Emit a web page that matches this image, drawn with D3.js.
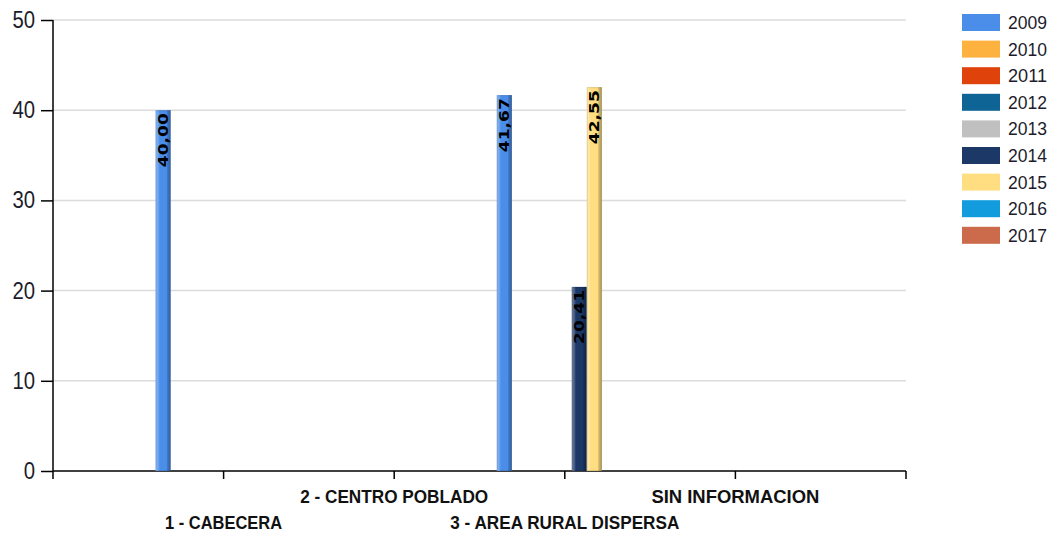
<!DOCTYPE html>
<html><head><meta charset="utf-8">
<script src="https://cdn.jsdelivr.net/npm/d3@7/dist/d3.min.js"></script>
<style>body{margin:0;background:#fff}svg{display:block}</style>
</head><body>
<svg id="c" width="1051" height="534"></svg>
<script>
const categories = ["1 - CABECERA", "2 - CENTRO POBLADO", "3 - AREA RURAL DISPERSA", "SIN INFORMACION"];
const years = ["2009","2010","2011","2012","2013","2014","2015","2016","2017"];
const colors = ["#4a8eea","#fdb13f","#e0420c","#0f6496","#c0c0c0","#1b3867","#ffde82","#129cdd","#cc6b4b"];
// values per year, one per category; null = no value
const v2009 = [40.00, null, 41.67, null];
const v2010 = [null, null, null, null];
const v2011 = [null, null, null, null];
const v2012 = [null, null, null, null];
const v2013 = [null, null, null, null];
const v2014 = [null, null, 20.41, null];
const v2015 = [null, null, 42.55, null];
const v2016 = [null, null, null, null];
const v2017 = [null, null, null, null];
const series = [v2009,v2010,v2011,v2012,v2013,v2014,v2015,v2016,v2017];
const yTicks = [0,10,20,30,40,50];

const svg = d3.select("#c");
const L=53, R=906, T=20, B=471;
const x = d3.scaleLinear().domain([0, categories.length+1]).range([L,R]);
const y = d3.scaleLinear().domain([0,50]).range([B,T]);
const barW = 15;
const inner = d3.scaleBand().domain(years).range([-barW*years.length/2, barW*years.length/2]);

const defs = svg.append("defs");
const g = defs.append("linearGradient").attr("id","shade").attr("x1","0").attr("x2","1").attr("y1","0").attr("y2","0");
[[0,"#fff",0.4],[0.2,"#fff",0.15],[0.28,"#fff",0],[0.72,"#000",0],[0.8,"#000",0.18],[1,"#000",0.3]]
  .forEach(s=>g.append("stop").attr("offset",s[0]).attr("stop-color",s[1]).attr("stop-opacity",s[2]));

// gridlines
svg.append("g").selectAll("line").data(yTicks.filter(d=>d>0)).join("line")
  .attr("x1",L).attr("x2",R).attr("y1",d=>y(d)).attr("y2",d=>y(d))
  .attr("stroke","#dcdcdc").attr("stroke-width",1.5);

// y axis
const ya = svg.append("g").attr("transform",`translate(${L},0)`)
  .call(d3.axisLeft(y).tickValues(yTicks).tickSize(12).tickPadding(6));
ya.select(".domain").attr("d",`M0,${T}V${B+8}`).attr("stroke","#000").attr("stroke-width",1.5);
ya.selectAll(".tick line").attr("stroke","#000").attr("stroke-width",1.5);
ya.selectAll("text").attr("font-family","Liberation Sans, Arial, sans-serif").attr("font-size",23).attr("fill","#1c1c2c")
  .attr("dy","0.33em").attr("textLength",d=>String(d).length*11.3).attr("lengthAdjust","spacingAndGlyphs");

// x axis
svg.append("line").attr("x1",L).attr("x2",R).attr("y1",B).attr("y2",B).attr("stroke","#000").attr("stroke-width",1.5);
svg.append("g").selectAll("line").data(d3.range(1, categories.length+2)).join("line")
  .attr("x1",d=>x(d)).attr("x2",d=>x(d)).attr("y1",B).attr("y2",B+8).attr("stroke","#000").attr("stroke-width",1.5);
const labW = [117, 188, 229, 168];
svg.append("g").selectAll("text").data(categories).join("text")
  .attr("x",(d,i)=>x(i+1)).attr("y",(d,i)=>i%2===0?529:503)
  .attr("text-anchor","middle").attr("font-family","Liberation Sans, Arial, sans-serif").attr("font-weight","bold")
  .attr("font-size",18.5).attr("fill","#111")
  .attr("textLength",(d,i)=>labW[i]).attr("lengthAdjust","spacingAndGlyphs")
  .text(d=>d);

// bars
const bars = [];
series.forEach((s,si)=>s.forEach((val,ci)=>{ if(val!=null) bars.push({si,ci,val}); }));
const bg = svg.append("g");
bars.forEach(b=>{
  const cx = x(b.ci+1) + inner(years[b.si]) - 0.5;
  const y0 = y(b.val);
  bg.append("rect").attr("x",cx).attr("y",y0).attr("width",barW).attr("height",B-y0).attr("fill",colors[b.si]);
  bg.append("rect").attr("x",cx).attr("y",y0).attr("width",barW).attr("height",B-y0).attr("fill","url(#shade)");
  bg.append("rect").attr("x",cx+0.5).attr("y",y0+0.5).attr("width",barW-1).attr("height",B-y0-1)
    .attr("fill","none").attr("stroke","#000").attr("stroke-opacity",0.12);
  bg.append("text").attr("transform",`translate(${cx+barW/2+5},${y0+3}) rotate(-90)`)
    .attr("text-anchor","end").attr("font-family","DejaVu Sans, Verdana, sans-serif").attr("font-weight","bold")
    .attr("font-size",14).attr("fill","#000")
    .attr("textLength",54).attr("lengthAdjust","spacingAndGlyphs")
    .text(d3.format(".2f")(b.val).replace(".",","));
});

// legend
const lg = svg.append("g");
years.forEach((yr,i)=>{
  const cy = 22.5 + i*26.6;
  lg.append("rect").attr("x",962).attr("y",cy-8.5).attr("width",38).attr("height",17).attr("fill",colors[i]);
  lg.append("text").attr("x",1008).attr("y",cy).attr("dy","0.36em")
    .attr("font-family","Liberation Sans, Arial, sans-serif").attr("font-size",18).attr("fill","#1c1c2c")
    .attr("textLength",39).attr("lengthAdjust","spacingAndGlyphs").text(yr);
});
</script>
</body></html>
